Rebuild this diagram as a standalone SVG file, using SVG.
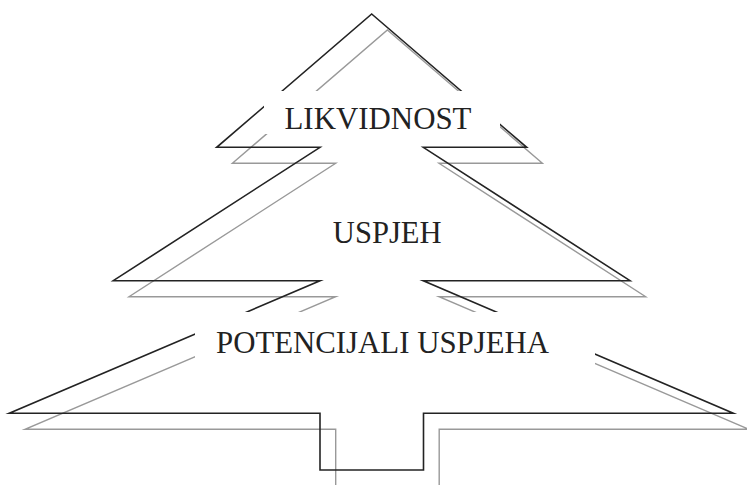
<svg xmlns="http://www.w3.org/2000/svg" width="747" height="485" viewBox="0 0 747 485">
<style>
.outline{fill:none;stroke-linejoin:miter;stroke-miterlimit:20}
.front{stroke:#232323;stroke-width:1.6}
.back{stroke:#999999;stroke-width:1.4}
.mask{fill:#ffffff;stroke:none}
.lbl{font-family:"Liberation Serif","Times New Roman",serif;font-size:31.5px;fill:#222222}
</style>
<defs>
<polygon id="tree" points="371.7,14 526.7,147.3 423.3,147.3 630,280.7 423.3,280.7 733.3,413.3 423.5,413.3 423.5,470 320,470 320,413.3 9.3,413.3 320,280.7 113.3,280.7 320,147.3 216.7,147.3"/>
</defs>
<rect x="0" y="0" width="747" height="485" fill="#ffffff"/>
<g id="tree-shadow">
<use href="#tree" class="outline back" transform="translate(15.7,16)"/>
</g>
<g id="tree-outline">
<use href="#tree" class="outline front"/>
</g>
<g id="likvidnost">
<rect class="mask" x="264" y="91" width="236" height="43"/>
<text class="lbl" x="284.5" y="129.3" textLength="187" lengthAdjust="spacingAndGlyphs">LIKVIDNOST</text>
</g>
<g id="uspjeh">
<text class="lbl" x="332.8" y="243.3" textLength="108.8" lengthAdjust="spacingAndGlyphs">USPJEH</text>
</g>
<g id="potencijali">
<rect class="mask" x="195" y="312" width="400" height="62"/>
<text class="lbl" x="216" y="352.7" textLength="333" lengthAdjust="spacingAndGlyphs">POTENCIJALI USPJEHA</text>
</g>
</svg>
